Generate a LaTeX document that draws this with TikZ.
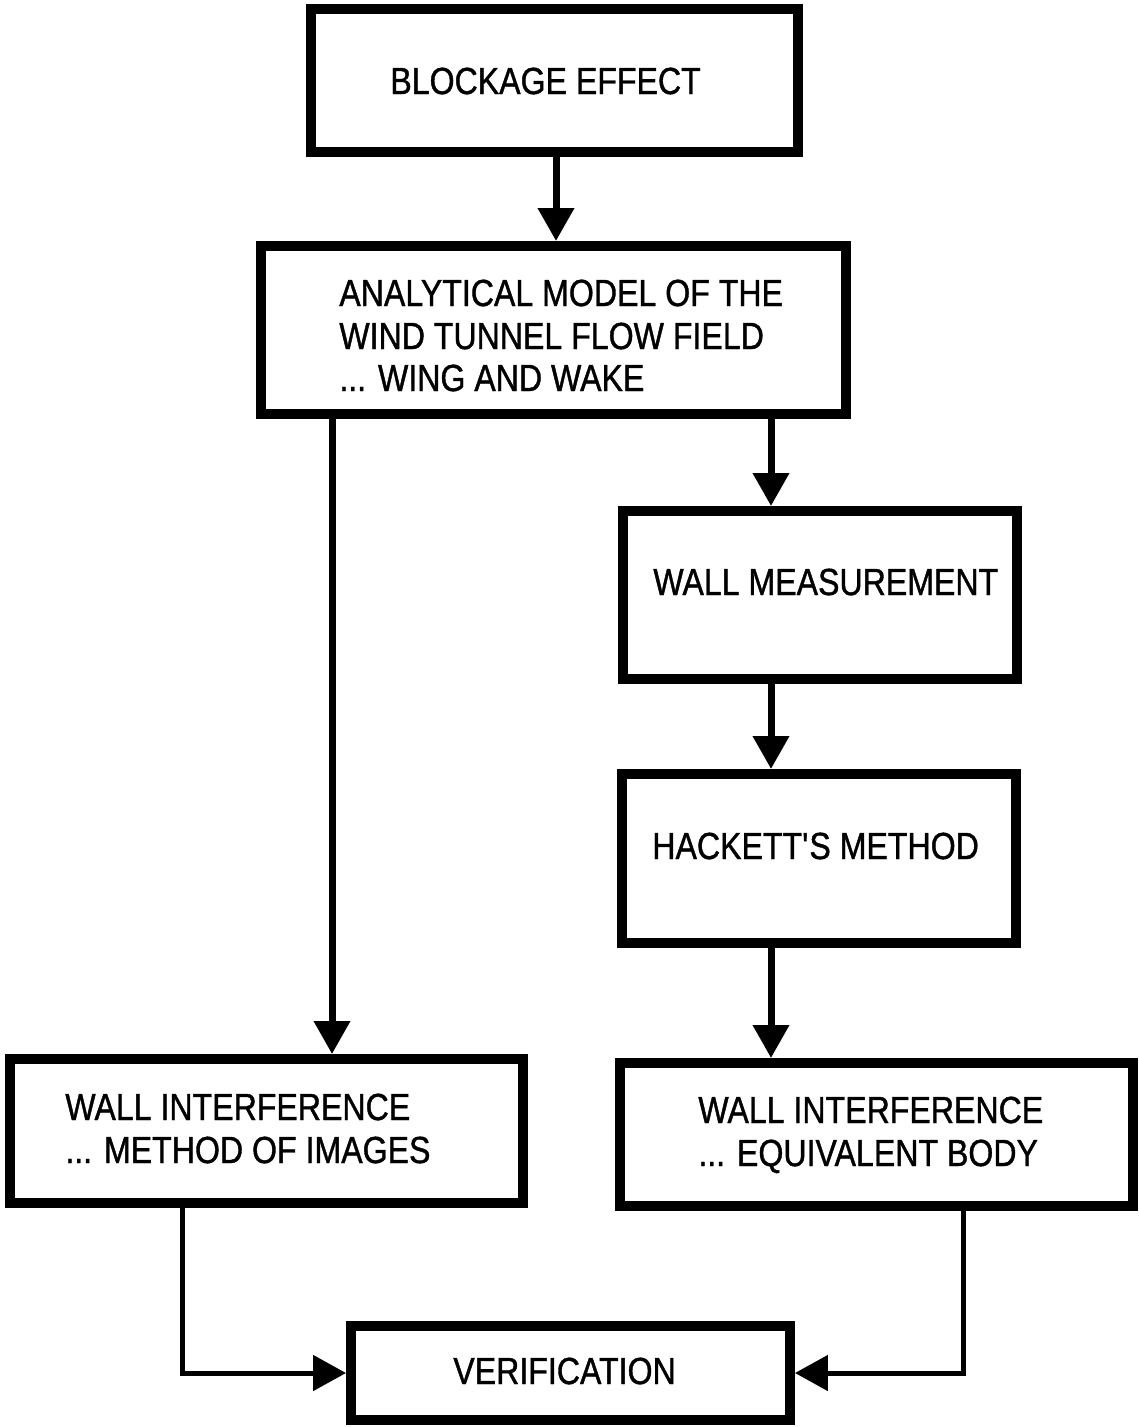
\documentclass[tikz,border=0pt]{standalone}
\usepackage{fontspec}
\setmainfont[FakeStretch=0.85,FakeBold=1]{Liberation Sans}
\usetikzlibrary{arrows.meta}
\begin{document}
\begin{tikzpicture}[x=0.02cm,y=-0.02cm,
  box/.style={draw,line width=0.2cm,inner sep=0pt},
  txt/.style={inner sep=0pt,anchor=base west,font=\fontsize{21.5pt}{24pt}\selectfont},
  arr/.style={line width=0.14cm,-{Triangle[width=0.7cm,length=0.66cm]}},
  arrb/.style={line width=0.1cm,-{Triangle[width=0.7cm,length=0.66cm]}}]
\useasboundingbox (0,0) rectangle (1139,1427);
% boxes
\node[box,minimum width=9.74cm,minimum height=2.86cm] (b1) at (554.5,80.5) {};
\node[box,minimum width=11.7cm,minimum height=3.36cm] (b2) at (553.5,330) {};
\node[box,minimum width=7.88cm,minimum height=3.36cm] (b3) at (820,595) {};
\node[box,minimum width=7.88cm,minimum height=3.38cm] (b4) at (819,858.5) {};
\node[box,minimum width=10.26cm,minimum height=2.88cm] (b5) at (266.5,1131) {};
\node[box,minimum width=10.26cm,minimum height=2.86cm] (b6) at (876.5,1134.5) {};
\node[box,minimum width=8.78cm,minimum height=1.88cm] (b7) at (570.5,1373) {};
% texts
\node[txt] (t1) at (390,94) {BLOCKAGE EFFECT};
\node[txt] (t2a) at (339,306) {ANALYTICAL MODEL OF THE};
\node[txt] (t2b) at (339,349) {WIND TUNNEL FLOW FIELD};
\node[txt] (t2c) at (339,391) {... WING AND WAKE};
\node[txt] (t3) at (653,595) {WALL MEASUREMENT};
\node[txt] (t4) at (652,859) {HACKETT\textquotesingle S METHOD};
\node[txt] (t5a) at (65,1120) {WALL INTERFERENCE};
\node[txt] (t5b) at (65,1163) {... METHOD OF IMAGES};
\node[txt] (t6a) at (698,1123) {WALL INTERFERENCE};
\node[txt] (t6b) at (698,1166) {... EQUIVALENT BODY};
\node[txt] (t7) at (453,1384) {VERIFICATION};
% connector x positions
\coordinate (xa) at (556,0);
\coordinate (xb) at (332,0);
\coordinate (xc) at (771,0);
\coordinate (xl) at (182,0);
\coordinate (xr) at (963,0);
% connectors
\draw[arr] (b1.south -| xa) -- (b2.north -| xa);
\draw[arr] (b2.south -| xb) -- (b5.north -| xb);
\draw[arr] (b2.south -| xc) -- (b3.north -| xc);
\draw[arr] (b3.south -| xc) -- (b4.north -| xc);
\draw[arr] (b4.south -| xc) -- (b6.north -| xc);
\draw[arrb] (b5.south -| xl) |- (b7.west);
\draw[arrb] (b6.south -| xr) |- (b7.east);
\end{tikzpicture}
\end{document}
